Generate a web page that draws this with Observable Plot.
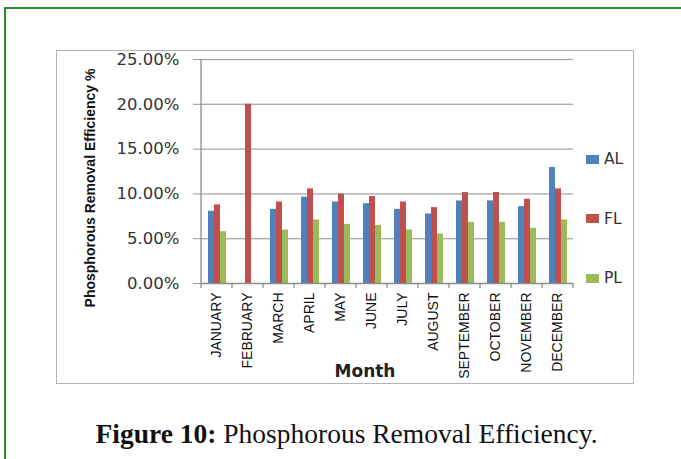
<!DOCTYPE html>
<html>
<head>
<meta charset="utf-8">
<script src="https://cdn.jsdelivr.net/npm/d3@7"></script>
<script src="https://cdn.jsdelivr.net/npm/@observablehq/plot@0.6"></script>
<style>
  html, body { margin: 0; padding: 0; background: #fff; }
  #page { position: relative; width: 681px; height: 459px; overflow: hidden; background: #fff; }
  #greenframe { position: absolute; left: 4px; top: 7px; width: 720px; height: 520px;
    border-left: 2px solid #2a8c2a; border-top: 2px solid #2a8c2a; box-sizing: border-box; }
  #graybox { position: absolute; left: 56px; top: 50px; width: 578px; height: 334px;
    border: 1.5px solid #b4b4b4; box-sizing: border-box; }
  #chart { position: absolute; left: 0; top: 0; }
  #chart svg { overflow: visible; }
  g[aria-label="y-axis tick label"] text { font-family: "DejaVu Sans", sans-serif; font-size: 16.5px; fill: #333; }
  g[aria-label="fx-axis tick label"] text { font-family: "Liberation Sans Narrow", "Liberation Sans", sans-serif; font-size: 14px; fill: #111; }
  #ytitle { position: absolute; left: 90px; top: 188px; transform: translate(-50%, -50%) rotate(-90deg);
    white-space: nowrap; font-family: "Liberation Sans Narrow", "Liberation Sans", sans-serif; font-weight: bold; font-size: 14px; color: #111; }
  #xtitle { position: absolute; left: 365px; top: 371px; transform: translate(-50%, -50%);
    white-space: nowrap; font-family: "DejaVu Sans", sans-serif; font-weight: bold; font-size: 17px; color: #222; }
  #legend { position: absolute; left: 586px; top: 150px; font-family: "DejaVu Sans", sans-serif; font-size: 15.5px; color: #333; }
  .item { position: absolute; left: 0; display: flex; align-items: center; white-space: nowrap; }
  .sw { width: 13px; height: 9px; margin-right: 5px; }
  #caption { position: absolute; left: 5px; width: 683px; top: 418px; text-align: center;
    font-family: "Liberation Serif", serif; font-size: 27.5px; color: #111; white-space: nowrap; }
</style>
</head>
<body>
<div id="page">
  <div id="greenframe"></div>
  <div id="graybox"></div>
  <div id="chart"></div>
  <div id="ytitle">Phosphorous Removal Efficiency %</div>
  <div id="xtitle">Month</div>
  <div id="legend"></div>
  <div id="caption"><b>Figure 10:</b> Phosphorous Removal Efficiency.</div>
</div>
<script>
// ---- data ----
const months = ["JANUARY", "FEBRUARY", "MARCH", "APRIL", "MAY", "JUNE", "JULY", "AUGUST", "SEPTEMBER", "OCTOBER", "NOVEMBER", "DECEMBER"];
const series = ["AL", "FL", "PL"];
const alValues = [8.06, 0, 8.28, 9.63, 9.10, 8.91, 8.28, 7.76, 9.22, 9.22, 8.58, 12.95];
const flValues = [8.77, 20.0, 9.10, 10.56, 9.97, 9.70, 9.10, 8.47, 10.15, 10.15, 9.41, 10.56];
const plValues = [5.78, 0, 5.97, 7.09, 6.60, 6.49, 5.97, 5.52, 6.83, 6.83, 6.16, 7.09];
const yTicks = [0, 5, 10, 15, 20, 25];
const colors = ["#4F81BD", "#C0504D", "#9BBB59"];

const valuesBySeries = {AL: alValues, FL: flValues, PL: plValues};
const data = [];
months.forEach((m, i) => series.forEach(s => data.push({month: m, series: s, value: valuesBySeries[s][i]})));

const plot = Plot.plot({
  width: 681,
  height: 400,
  marginLeft: 201,
  marginRight: 108,
  marginTop: 59,
  marginBottom: 117,
  style: {background: "transparent", overflow: "visible"},
  fx: {domain: months, padding: 0},
  x: {domain: series, paddingInner: 0, paddingOuter: 0.72, axis: null},
  y: {domain: [0, 25], label: null},
  color: {domain: series, range: colors},
  marks: [
    Plot.gridY(yTicks, {stroke: "#a8a8a8", strokeOpacity: 1, strokeWidth: 1.3}),
    Plot.barY(data, {fx: "month", x: "series", y: "value", fill: "series"}),
    Plot.ruleY([0], {stroke: "#8c8c8c", strokeWidth: 1.3}),
    Plot.axisY({ticks: yTicks, tickSize: 8, tickPadding: 14, stroke: "#999", tickFormat: d => d.toFixed(2) + "%", label: null}),
    Plot.axisFx({anchor: "bottom", tickRotate: -90, tickSize: 0, tickPadding: 9, label: null})
  ]
});
document.getElementById("chart").appendChild(plot);

// axis line and category boundary ticks, placed with Plot's own scales
const fx = plot.scale("fx");
const y = plot.scale("y");
const svg = d3.select(plot);
const step = fx.bandwidth !== undefined ? fx.bandwidth : (fx.step || 31);
const x0 = fx.apply(months[0]);
const bounds = months.map(m => fx.apply(m)).concat([fx.apply(months[months.length - 1]) + step]);
const g = svg.append("g").attr("stroke", "#8c8c8c").attr("stroke-width", 1.3);
g.append("line").attr("x1", x0).attr("x2", x0).attr("y1", y.apply(25)).attr("y2", y.apply(0));
bounds.forEach(b => g.append("line").attr("x1", b).attr("x2", b).attr("y1", y.apply(0)).attr("y2", y.apply(0) + 5));

// legend
const legend = d3.select("#legend");
series.forEach((s, i) => {
  const item = legend.append("div").attr("class", "item").style("top", (i * 59.5) + "px");
  item.append("div").attr("class", "sw").style("background", colors[i]);
  item.append("span").text(s);
});
</script>
</body>
</html>
